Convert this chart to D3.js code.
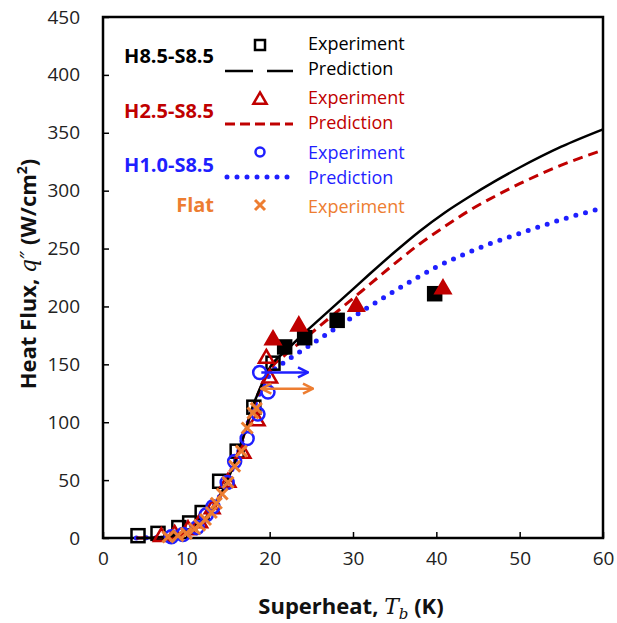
<html>
<head>
<script src="https://cdn.jsdelivr.net/npm/d3@7"></script>
<style>
  body { margin: 0; background: #fff; }
  text { font-family: "Open Sans", sans-serif; }
</style>
</head>
<body>
<svg id="chart" width="617" height="623"></svg>
<script>
// ---- data ----
const sqOpen = [[4.2, 2], [6.6, 4], [9.1, 9], [10.4, 13], [11.9, 22], [14.0, 49], [16.1, 75], [18.1, 113], [20.4, 151]];
const sqFill = [[21.8, 165], [24.2, 173], [28.1, 188], [39.8, 211]];
const triOpen = [[7.0, 1], [8.6, 3], [10.2, 7], [11.6, 13], [13.1, 25], [15.0, 48], [16.8, 73], [18.5, 101], [20.0, 138], [19.6, 155]];
const triFill = [[20.4, 171], [23.5, 183], [30.4, 200], [40.8, 215]];
const circ = [[8.2, 1], [9.6, 3], [11.3, 9], [12.4, 20], [13.2, 27], [14.9, 48], [15.8, 66], [17.3, 86], [18.6, 107], [19.8, 126], [18.8, 143]];
const cross = [[7.8, 1], [9.0, 2], [10.0, 4], [11.0, 8], [11.6, 11], [12.3, 16], [13.0, 22], [13.6, 30], [14.3, 38], [15.0, 48], [15.8, 62], [16.6, 75], [17.3, 95], [18.0, 108], [18.4, 112]];

const predLow = [[4, 0], [6, 0.3], [8, 1.5], [9, 3], [10, 5], [11, 9], [12, 15], [13, 24], [14, 36], [15, 51], [16, 69], [17, 91]];
const predH85 = predLow.concat([[18, 114], [19, 132], [20, 147], [22, 162], [24, 176], [26, 189], [28, 202], [30, 215], [32, 228], [35, 247], [38, 265], [41, 281], [44, 295], [47, 308], [50, 320], [55, 338], [60, 353]]);
const predH25 = predLow.concat([[18, 113], [19, 131], [20, 145], [22, 159], [24, 171], [26, 183], [28, 195], [30, 207], [32, 219], [35, 237], [38, 254], [41, 269], [44, 283], [47, 295], [50, 306], [55, 322], [60, 335]]);
const predH10 = predLow.concat([[18, 111], [19, 128], [20, 141], [22, 153], [24, 162.5], [26, 172], [28, 181.5], [30, 191], [32, 200], [34, 209], [37, 222], [40, 234], [43, 244], [46, 253], [50, 263], [55, 275], [60, 285]]);

const arrowBlue = [[19.0, 143], [24.6, 143]];
const arrowOrange = [[19.0, 129], [25.2, 129]];

const xTicks = [0, 10, 20, 30, 40, 50, 60];
const yTicks = [0, 50, 100, 150, 200, 250, 300, 350, 400, 450];

const BLACK = "#000000", RED = "#c00000", BLUE = "#1f1fff", ORANGE = "#ed7d31";

// ---- layout ----
const svg = d3.select("#chart");
const x = d3.scaleLinear().domain([0, 60]).range([103, 603]);
const y = d3.scaleLinear().domain([0, 450]).range([538, 17]);

// axes with inner ticks
svg.append("g")
  .attr("transform", "translate(0,538)")
  .call(d3.axisBottom(x).tickValues(xTicks).tickSize(-6).tickSizeOuter(0).tickPadding(14))
  .call(g => g.select(".domain").remove())
  .call(g => g.selectAll("line").attr("stroke", "#000").attr("stroke-width", 1.5))
  .call(g => g.selectAll("text").attr("font-size", 19).attr("fill", "#222").attr("font-family", "Open Sans"));

svg.append("g")
  .attr("transform", "translate(103,0)")
  .call(d3.axisLeft(y).tickValues(yTicks).tickSize(-6).tickSizeOuter(0).tickPadding(23))
  .call(g => g.select(".domain").remove())
  .call(g => g.selectAll("line").attr("stroke", "#000").attr("stroke-width", 1.5))
  .call(g => g.selectAll("text").attr("font-size", 19).attr("fill", "#222").attr("font-family", "Open Sans"));

svg.append("rect")
  .attr("x", 103).attr("y", 17).attr("width", 500).attr("height", 521)
  .attr("fill", "none").attr("stroke", "#000").attr("stroke-width", 2.5);

// axis titles
const xt = svg.append("text")
  .attr("x", 351).attr("y", 614).attr("text-anchor", "middle")
  .attr("font-size", 22).attr("font-weight", "bold").attr("fill", "#111");
xt.append("tspan").text("Superheat, ");
xt.append("tspan").attr("font-family", "DejaVu Serif").attr("font-style", "italic").attr("font-weight", "normal").text("T");
xt.append("tspan").attr("font-family", "DejaVu Serif").attr("font-style", "italic").attr("font-weight", "normal")
  .attr("font-size", 15).attr("dy", 5).text("b");
xt.append("tspan").attr("dy", -5).text(" (K)");

const yt = svg.append("text")
  .attr("transform", "translate(36,274) rotate(-90)").attr("text-anchor", "middle")
  .attr("font-size", 22).attr("font-weight", "bold").attr("fill", "#111");
yt.append("tspan").text("Heat Flux, ");
yt.append("tspan").attr("font-family", "DejaVu Serif").attr("font-style", "italic").attr("font-weight", "normal").text("q\u2033");
yt.append("tspan").text(" (W/cm");
yt.append("tspan").attr("font-size", 14).attr("dy", -9).text("2");
yt.append("tspan").attr("dy", 9).text(")");

// prediction curves
const line = d3.line().x(d => x(d[0])).y(d => y(d[1])).curve(d3.curveMonotoneX);
svg.append("path").datum(predH10).attr("d", line)
  .attr("fill", "none").attr("stroke", BLUE).attr("stroke-width", 5)
  .attr("stroke-linecap", "round").attr("stroke-dasharray", "0 10");
svg.append("path").datum(predH25).attr("d", line)
  .attr("fill", "none").attr("stroke", RED).attr("stroke-width", 3).attr("stroke-dasharray", "10 6");
svg.append("path").datum(predH85).attr("d", line)
  .attr("fill", "none").attr("stroke", BLACK).attr("stroke-width", 2.5);

// markers
const sq = 13, triSym = d3.symbol().type(d3.symbolTriangle).size(95);
function squares(data, filled) {
  svg.append("g").selectAll("rect").data(data).join("rect")
    .attr("x", d => x(d[0]) - sq / 2).attr("y", d => y(d[1]) - sq / 2)
    .attr("width", sq).attr("height", sq)
    .attr("fill", filled ? BLACK : "none").attr("stroke", BLACK).attr("stroke-width", 2.5);
}
function triangles(data, filled) {
  svg.append("g").selectAll("path").data(data).join("path")
    .attr("d", triSym).attr("transform", d => `translate(${x(d[0])},${y(d[1])})`)
    .attr("fill", filled ? RED : "none").attr("stroke", RED).attr("stroke-width", 2.5);
}
squares(sqOpen, false);
squares(sqFill, true);
triangles(triOpen, false);
triangles(triFill, true);

svg.append("g").selectAll("circle").data(circ).join("circle")
  .attr("cx", d => x(d[0])).attr("cy", d => y(d[1])).attr("r", 6.5)
  .attr("fill", "none").attr("stroke", BLUE).attr("stroke-width", 2.5);

const xs = 5.5;
svg.append("g").selectAll("path").data(cross).join("path")
  .attr("d", d => {
    const cx = x(d[0]), cy = y(d[1]);
    return `M${cx - xs},${cy - xs}L${cx + xs},${cy + xs}M${cx - xs},${cy + xs}L${cx + xs},${cy - xs}`;
  })
  .attr("stroke", ORANGE).attr("stroke-width", 3).attr("fill", "none");

// arrows
const defs = svg.append("defs");
[["headB", BLUE], ["headO", ORANGE]].forEach(([id, c]) => {
  defs.append("marker").attr("id", id).attr("viewBox", "0 0 10 10")
    .attr("refX", 9).attr("refY", 5).attr("markerWidth", 5).attr("markerHeight", 5)
    .attr("orient", "auto-start-reverse")
    .append("path").attr("d", "M1,1L9,5L1,9").attr("fill", "none").attr("stroke", c).attr("stroke-width", 2);
});
svg.append("path").datum(arrowBlue).attr("d", d3.line().x(d => x(d[0])).y(d => y(d[1])))
  .attr("stroke", BLUE).attr("stroke-width", 2.5).attr("marker-end", "url(#headB)");
svg.append("path").datum(arrowOrange).attr("d", d3.line().x(d => x(d[0])).y(d => y(d[1])))
  .attr("stroke", ORANGE).attr("stroke-width", 2.5)
  .attr("marker-end", "url(#headO)").attr("marker-start", "url(#headO)");

// legend
const legendRows = [
  { name: "H8.5-S8.5", color: BLACK, sym: "square", dash: "28 14", width: 2.5, labelY: 63, markY: 45, lineY: 71, expY: 50, predY: 75 },
  { name: "H2.5-S8.5", color: RED, sym: "triangle", dash: "10 5", width: 3, labelY: 118, markY: 100, lineY: 124, expY: 104, predY: 129 },
  { name: "H1.0-S8.5", color: BLUE, sym: "circle", dash: "0 10", width: 5, labelY: 172, markY: 152, lineY: 177, expY: 159, predY: 184 },
  { name: "Flat", color: ORANGE, sym: "cross", dash: null, labelY: 212, markY: 205, expY: 213 }
];
const lg = svg.append("g");
legendRows.forEach(r => {
  lg.append("text").attr("x", 214).attr("y", r.labelY).attr("text-anchor", "end")
    .attr("font-size", 20).attr("font-weight", "bold").attr("fill", r.color).text(r.name);
  const mx = 260, my = r.markY;
  if (r.sym === "square") {
    lg.append("rect").attr("x", mx - 5).attr("y", my - 5).attr("width", 10).attr("height", 10)
      .attr("fill", "none").attr("stroke", r.color).attr("stroke-width", 2.5);
  } else if (r.sym === "triangle") {
    lg.append("path").attr("d", d3.symbol().type(d3.symbolTriangle).size(75)).attr("transform", `translate(${mx},${my})`)
      .attr("fill", "none").attr("stroke", r.color).attr("stroke-width", 2.5);
  } else if (r.sym === "circle") {
    lg.append("circle").attr("cx", mx).attr("cy", my).attr("r", 4.5)
      .attr("fill", "none").attr("stroke", r.color).attr("stroke-width", 2.5);
  } else {
    lg.append("path").attr("d", `M${mx - 5},${my - 5}L${mx + 5},${my + 5}M${mx - 5},${my + 5}L${mx + 5},${my - 5}`)
      .attr("stroke", r.color).attr("stroke-width", 3);
  }
  lg.append("text").attr("x", 308).attr("y", r.expY).attr("font-size", 18).attr("fill", r.color).text("Experiment");
  if (r.dash) {
    lg.append("line").attr("x1", r.sym === "circle" ? 227 : 225).attr("x2", 293).attr("y1", r.lineY).attr("y2", r.lineY)
      .attr("stroke", r.color).attr("stroke-width", r.width).attr("stroke-dasharray", r.dash)
      .attr("stroke-linecap", r.sym === "circle" ? "round" : "butt");
    lg.append("text").attr("x", 308).attr("y", r.predY).attr("font-size", 18).attr("fill", r.color).text("Prediction");
  }
});
</script>
</body>
</html>
